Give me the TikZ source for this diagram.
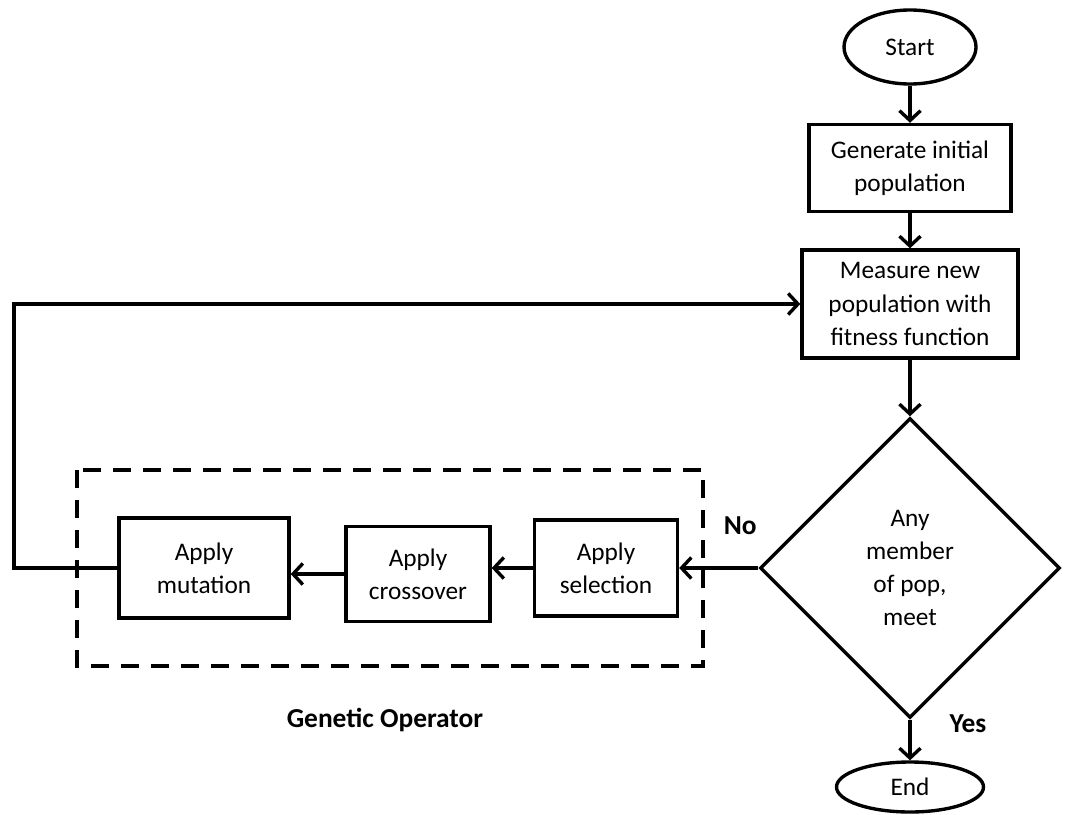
\documentclass[tikz,border=0pt]{standalone}
\usepackage{fontspec}
\setmainfont{Carlito}
\usetikzlibrary{arrows.meta,positioning,shapes.geometric}

\tikzset{
  stepbox/.style={rectangle, draw, line width=2.4pt, align=center},
  terminal/.style={ellipse, draw, line width=2.4pt, inner sep=0pt},
  decision/.style={diamond, draw, line width=2.4pt, aspect=1, inner sep=0pt, align=center, minimum size=7.5cm},
  flow/.style={->, line width=2.4pt},
  answer/.style={font=\fontsize{19.5}{23}\selectfont\bfseries}
}

\begin{document}
\begin{tikzpicture}[node distance=2cm, on grid, >={Straight Barb[length=7pt,width=15pt]},
  font=\fontsize{18}{23.5}\selectfont]
   \useasboundingbox (0,0) rectangle (26.65,-20.35);

   \node[terminal, minimum width=3.3cm, minimum height=1.85cm] (start) at (22.75,-1.175) {Start};
   \node[stepbox, minimum width=5.05cm, minimum height=2.175cm] (gen) [below=3.025 of start] {Generate initial\\population};
   \node[stepbox, minimum width=5.4cm, minimum height=2.7cm] (meas) [below=3.4 of gen] {Measure new\\population with\\fitness function};
   \node[decision] (any) [below=6.6 of meas] {Any\\member\\of pop,\\meet};
   \node[terminal, minimum width=3.675cm, minimum height=1.25cm] (end) [below=5.475 of any] {End};

   \node[stepbox, minimum width=3.575cm, minimum height=2.4cm] (sel) [left=7.6 of any] {Apply\\selection};
   \node[stepbox, minimum width=3.6cm, minimum height=2.375cm] (cross) [left=4.7 of sel, yshift=-0.15cm] {Apply\\crossover};
   \node[stepbox, minimum width=4.25cm, minimum height=2.5cm] (mut) [left=5.35 of cross, yshift=0.15cm] {Apply\\mutation};

   % genetic operator group
   \draw[line width=2.4pt, dash pattern=on 0.45cm off 0.3cm] (1.925,-11.75) rectangle (17.575,-16.65);
   \node[answer] (genop) at (9.625,-18.0) {Genetic Operator};
   \node[answer] (no) at ([shift={(-0.45,1.05)}]any.west) {No};
   \node[answer] (yes) at ([shift={(1.45,-0.1)}]any.south) {Yes};

   \coordinate (loop) at (0.35,0);

   \draw[flow] (start) -- (gen);
   \draw[flow] (gen) -- (meas);
   \draw[flow] (meas) -- (any);
   \draw[flow] (any) -- (end);
   \draw[flow] (any) -- (sel);
   \draw[flow] (sel) -- (sel -| cross.east);
   \draw[flow] (cross) -- (cross -| mut.east);
   \draw[flow] (mut.west) -| (loop |- meas.west) -- (meas.west);
\end{tikzpicture}
\end{document}
